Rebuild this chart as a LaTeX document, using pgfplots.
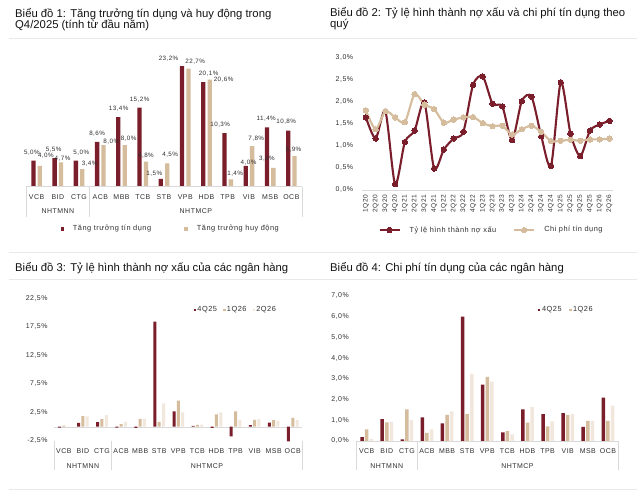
\documentclass[border=0pt]{standalone}
\usepackage{pgfplots}
\pgfplotsset{compat=1.18}
\usepackage{pgfplotstable}
\usepackage{fontspec}
\setmainfont{Liberation Sans}
\newfontfamily\lsp[LetterSpace=7]{Liberation Sans}
\definecolor{cred}{HTML}{7A1E2B}
\definecolor{cbeige}{HTML}{D4BC9C}
\definecolor{clight}{HTML}{F1E7DD}
\definecolor{cline}{HTML}{D9D9D9}
\definecolor{csep}{HTML}{E9E9E9}
\definecolor{ctext}{HTML}{303030}

\pgfplotstableread{
x red beige rdx rdy bdx bdy
0 5.0 4.0 -1.5 8.4 6 9.9
1 5.5 4.7 -1 8.8 1.5 4
2 5.0 3.4 5.4 8.4 7.3 5.7
3 8.6 8.0 0 8 7.8 3.1
4 13.4 8.0 0.3 8.7 3.9 6.8
5 15.2 4.8 0 8.4 0 6
6 1.5 4.5 -6.5 5.6 3 8.3
7 23.2 22.7 -13.5 7.7 6.8 7
8 20.1 20.6 5.3 8.9 13.9 0.3
9 10.3 1.4 -4.3 8.8 4.3 6.1
10 4.0 7.8 2.8 3.2 4.1 7.1
11 11.4 3.6 -0.7 9.1 -6.4 9
12 10.8 5.9 -2 8.8 -1.1 6.7
}\tabA

\pgfplotstableread{
x npl cost
0 1.65 1.81
1 1.17 1.38
2 1.79 1.79
3 0.13 1.65
4 1.09 1.54
5 1.35 2.18
6 1.99 1.94
7 0.49 1.84
8 0.92 1.53
9 1.17 1.60
10 1.32 1.65
11 2.39 1.66
12 2.58 1.52
13 1.96 1.45
14 1.90 1.46
15 1.13 1.26
16 2.02 1.38
17 2.12 1.46
18 1.22 1.32
19 0.55 1.11
20 2.45 1.12
21 1.28 1.14
22 0.77 1.12
23 1.35 1.15
24 1.49 1.15
25 1.57 1.17
}\tabB

\pgfplotstableread{
x a b c
0 -0.15 0.20 0.05
1 0.68 1.85 1.80
2 0.80 1.32 2.03
3 -0.15 0.44 0.85
4 -0.20 1.38 1.38
5 18.4 0.85 4.09
6 2.68 4.56 2.50
7 0.15 0.32 0.38
8 -0.20 2.15 2.50
9 -1.68 2.68 1.20
10 0.26 1.20 1.32
11 0.74 1.15 1.03
12 -2.56 1.56 1.15
}\tabC

\pgfplotstableread{
x a b c
0 0.19 0.56 0.10
1 1.05 0.90 0.92
2 0.08 1.53 1.01
3 1.14 0.39 0.56
4 0.85 1.26 1.43
5 6.00 1.30 3.24
6 2.72 3.09 2.87
7 0.42 0.48 0.32
8 1.53 0.89 1.63
9 1.30 0.71 0.95
10 1.34 1.26 1.30
11 0.68 0.97 0.97
12 2.09 0.97 1.71
}\tabD

\tikzset{tickfont/.style={font=\lsp\fontsize{7}{8}\selectfont, text=ctext}}
\pgfplotsset{
  barbase/.style={scale only axis, clip=false, axis line style={draw=none},
    major tick length=0pt, tick style={draw=none},
    xmin=-0.5, xmax=12.5, xtick={0,...,12},
    xticklabel style={tickfont, anchor=base, yshift=-12.6bp},
    yticklabel style={tickfont, anchor=east, inner sep=0pt},
    yticklabel shift=7bp,
    ybar, legend cell align=left},
  sqlegend/.style={legend image code/.code={\fill[##1] (0bp,-1.7bp) rectangle (3.4bp,1.7bp);}},
  smsqlegend/.style={legend image code/.code={\fill[##1] (0bp,-1.4bp) rectangle (2.8bp,1.4bp);}},
}

\begin{document}
\begin{tikzpicture}
\useasboundingbox (0,0) rectangle (640bp,496bp);
\fill[white] (0,0) rectangle (640bp,496bp);

% separators
\foreach \yy in {458,243.3,217,7} {\draw[csep, line width=0.8bp] (9bp,\yy bp) -- (637bp,\yy bp);}

% titles
\begin{scope}[every node/.style={anchor=base west, inner sep=0pt, font=\fontsize{11.35}{13}\selectfont, text=black!92}]
\node at (15bp,478.7bp) {Biểu đồ 1: Tăng trưởng tín dụng và huy động trong};
\node at (15bp,467.7bp) {Q4/2025 (tính từ đầu năm)};
\node at (330bp,479.5bp) {Biểu đồ 2: Tỷ lệ hình thành nợ xấu và chi phí tín dụng theo};
\node at (330bp,468.5bp) {quý};
\node at (15bp,224.3bp) {Biểu đồ 3: Tỷ lệ hình thành nợ xấu của các ngân hàng};
\node at (330bp,224.3bp) {Biểu đồ 4:  Chi phí tín dụng của các ngân hàng};
\end{scope}

% ---------------- Chart 1
\begin{axis}[barbase, sqlegend, at={(26bp,309.3bp)}, anchor=south west,
  width=276bp, height=130bp, ymin=0, ymax=25, ytick=\empty,
  xticklabels={VCB,BID,CTG,ACB,MBB,TCB,STB,VPB,HDB,TPB,VIB,MSB,OCB},
  bar width=4.3bp, point meta=y,
  nodes near coords={\pgfmathprintnumber[fixed,fixed zerofill,precision=1,use comma,assume math mode=true]{\pgfplotspointmeta}\%},
  legend style={at={(axis description cs:0.522,-0.325)}, anchor=center, draw=none, fill=none,
    font=\lsp\fontsize{7.4}{9}\selectfont, text=ctext, legend columns=2,
    nodes={inner sep=0.8bp},
    /tikz/every odd column/.append style={column sep=8.2bp},
    /tikz/every even column/.append style={column sep=32.5bp}},
]
\addplot[fill=cred, draw=none, bar shift=-3.2bp,
  visualization depends on={\thisrow{rdx} \as \lblx},
  visualization depends on={\thisrow{rdy} \as \lbly},
  every node near coord/.append style={anchor=center, inner sep=0pt, xshift=\lblx bp, yshift=\lbly bp, font=\lsp\fontsize{6.3}{7}\selectfont, text=ctext}]
  table[x=x, y=red] {\tabA};
\addlegendentry{Tăng trưởng tín dụng}
\addplot[fill=cbeige, draw=none, bar shift=3.2bp,
  visualization depends on={\thisrow{bdx} \as \lblx},
  visualization depends on={\thisrow{bdy} \as \lbly},
  every node near coord/.append style={anchor=center, inner sep=0pt, xshift=\lblx bp, yshift=\lbly bp, font=\lsp\fontsize{6.3}{7}\selectfont, text=ctext}]
  table[x=x, y=beige] {\tabA};
\addlegendentry{Tăng trưởng huy động}
\draw[cline] (axis cs:-0.5,0) -- (axis cs:12.5,0);
\draw[cline] (axis cs:-0.5,0) -- ([yshift=-30bp]axis cs:-0.5,0);
\draw[cline] (axis cs:2.5,0) -- ([yshift=-30bp]axis cs:2.5,0);
\draw[cline] (axis cs:12.5,0) -- ([yshift=-30bp]axis cs:12.5,0);
\node[tickfont, anchor=base] at ([yshift=-26.8bp]axis cs:1,0) {NHTMNN};
\node[tickfont, anchor=base] at ([yshift=-26.8bp]axis cs:7.5,0) {NHTMCP};
\end{axis}

% ---------------- Chart 2
\begin{axis}[scale only axis, clip=false, at={(362bp,306bp)}, anchor=south west,
  width=251.4bp, height=132bp, xmin=-0.4, xmax=25.4, ymin=0, ymax=3,
  axis line style={draw=none}, major tick length=0pt, tick style={draw=none},
  xtick={0,...,25},
  xticklabels={1Q20,2Q20,3Q20,4Q20,1Q21,2Q21,3Q21,4Q21,1Q22,2Q22,3Q22,4Q22,1Q23,2Q23,3Q23,4Q23,1Q24,2Q24,3Q24,4Q24,1Q25,2Q25,3Q25,4Q25,1Q26,2Q26},
  xticklabel style={tickfont, rotate=90, anchor=east, inner sep=0pt, font=\lsp\fontsize{6.6}{8}\selectfont},
  xticklabel shift=5bp,
  ytick={0,0.5,...,3},
  yticklabels={{0,0\%},{0,5\%},{1,0\%},{1,5\%},{2,0\%},{2,5\%},{3,0\%}},
  yticklabel style={tickfont, anchor=east, inner sep=0pt},
  yticklabel shift=8.7bp,
  legend style={at={(axis description cs:0.513,-0.303)}, anchor=center, draw=none, fill=none,
    font=\lsp\fontsize{7.4}{9}\selectfont, text=ctext, legend columns=2,
    nodes={inner sep=0.8bp},
    /tikz/every odd column/.append style={column sep=8.2bp},
    /tikz/every even column/.append style={column sep=16.2bp}},
  legend image code/.code={\draw[#1, mark repeat=2, mark phase=2] plot coordinates {(0bp,0bp) (10bp,0bp) (20bp,0bp)};},
]
\draw[cline] (axis cs:-0.4,0) -- (axis cs:25.4,0);
\addplot[cred, line width=2.1bp, smooth, tension=0.45, mark=*, mark size=2.7bp,
  mark options={fill=cred, draw=cred, line width=0pt}] table[x=x, y=npl] {\tabB};
\addlegendentry{Tỷ lệ hình thành nợ xấu}
\addplot[cbeige, line width=2.1bp, smooth, tension=0.45, mark=*, mark size=2.7bp,
  mark options={fill=cbeige, draw=cbeige, line width=0pt}] table[x=x, y=cost] {\tabB};
\addlegendentry{Chi phí tín dụng}
\end{axis}

% ---------------- Chart 3
\begin{axis}[barbase, smsqlegend, at={(54.3bp,55bp)}, anchor=south west,
  width=248bp, height=142.7bp, ymin=-2.5, ymax=22.5,
  ytick={-2.5,2.5,7.5,12.5,17.5,22.5},
  yticklabels={{-2,5\%},{2,5\%},{7,5\%},{12,5\%},{17,5\%},{22,5\%}},
  yticklabel shift=6.6bp,
  xticklabels={VCB,BID,CTG,ACB,MBB,STB,VPB,TCB,HDB,TPB,VIB,MSB,OCB},
  bar width=3bp,
  legend style={at={(axis description cs:0.729,0.918)}, anchor=center, draw=none, fill=none,
    font=\lsp\fontsize{7.4}{8}\selectfont, text=ctext, legend columns=3,
    nodes={inner sep=0.6bp},
    /tikz/every odd column/.append style={column sep=0.4bp},
    /tikz/every even column/.append style={column sep=5.5bp}},
]
\draw[cline] (axis cs:-0.5,0) -- (axis cs:12.5,0);
\addplot[fill=cred, draw=none, bar shift=-4.3bp] table[x=x, y=a] {\tabC};
\addlegendentry{4Q25}
\addplot[fill=cbeige, draw=none, bar shift=0bp] table[x=x, y=b] {\tabC};
\addlegendentry{1Q26}
\addplot[fill=clight, draw=none, bar shift=4.3bp] table[x=x, y=c] {\tabC};
\addlegendentry{2Q26}
\draw[cline] (axis cs:-0.5,-2.5) -- ([yshift=-29bp]axis cs:-0.5,-2.5);
\draw[cline] (axis cs:2.5,-2.5) -- ([yshift=-29bp]axis cs:2.5,-2.5);
\draw[cline] (axis cs:12.5,-2.5) -- ([yshift=-29bp]axis cs:12.5,-2.5);
\node[tickfont, anchor=base] at ([yshift=-27.2bp]axis cs:1,-2.5) {NHTMNN};
\node[tickfont, anchor=base] at ([yshift=-27.2bp]axis cs:7.5,-2.5) {NHTMCP};
\end{axis}

% ---------------- Chart 4
\begin{axis}[barbase, smsqlegend, at={(356.6bp,55bp)}, anchor=south west,
  width=261.4bp, height=145bp, ymin=0, ymax=7,
  ytick={0,1,...,7},
  yticklabels={{0,0\%},{1,0\%},{2,0\%},{3,0\%},{4,0\%},{5,0\%},{6,0\%},{7,0\%}},
  yticklabel shift=7.6bp,
  xticklabels={VCB,BID,CTG,ACB,MBB,STB,VPB,TCB,HDB,TPB,VIB,MSB,OCB},
  bar width=3.5bp,
  legend style={at={(axis description cs:0.799,0.903)}, anchor=center, draw=none, fill=none,
    font=\lsp\fontsize{7.4}{8}\selectfont, text=ctext, legend columns=2,
    nodes={inner sep=0.6bp},
    /tikz/every odd column/.append style={column sep=1bp},
    /tikz/every even column/.append style={column sep=6.5bp}},
]
\draw[cline] (axis cs:-0.5,0) -- (axis cs:12.5,0);
\addplot[fill=cred, draw=none, bar shift=-4.6bp] table[x=x, y=a] {\tabD};
\addlegendentry{4Q25}
\addplot[fill=cbeige, draw=none, bar shift=0bp] table[x=x, y=b] {\tabD};
\addlegendentry{1Q26}
\addplot[fill=clight, draw=none, bar shift=4.6bp, forget plot] table[x=x, y=c] {\tabD};
\draw[cline] (axis cs:-0.5,0) -- ([yshift=-29bp]axis cs:-0.5,0);
\draw[cline] (axis cs:2.5,0) -- ([yshift=-29bp]axis cs:2.5,0);
\draw[cline] (axis cs:12.5,0) -- ([yshift=-29bp]axis cs:12.5,0);
\node[tickfont, anchor=base] at ([yshift=-27.2bp]axis cs:1,0) {NHTMNN};
\node[tickfont, anchor=base] at ([yshift=-27.2bp]axis cs:7.5,0) {NHTMCP};
\end{axis}
\end{tikzpicture}
\end{document}
